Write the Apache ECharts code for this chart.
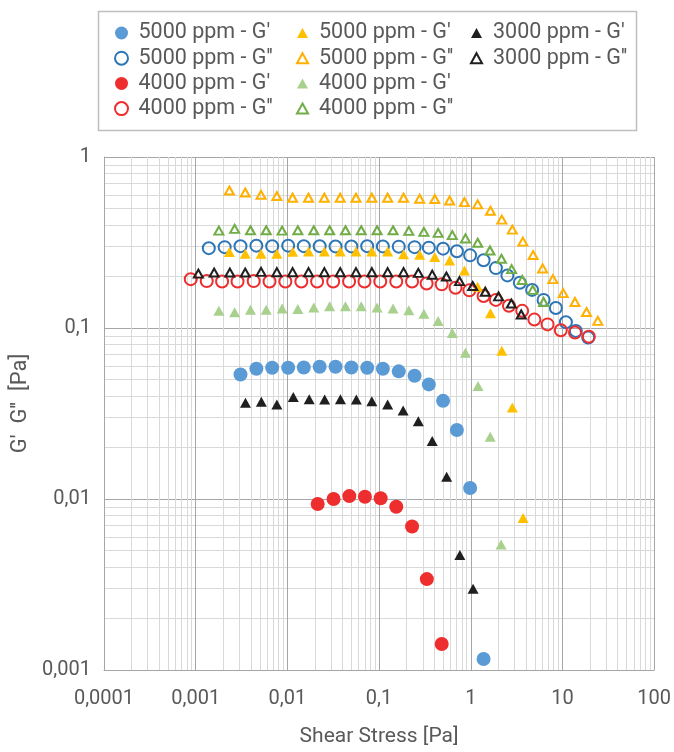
<!DOCTYPE html>
<html>
<head>
<meta charset="utf-8">
<script src="https://cdn.jsdelivr.net/npm/echarts@6/dist/echarts.min.js"></script>
<style>
  html, body { margin: 0; padding: 0; background: #fff; }
  #chart { width: 674px; height: 752px; }
</style>
</head>
<body>
<div id="chart"></div>
<script>
// tick labels (decimal comma)
const xTickLabels = ["0,0001", "0,001", "0,01", "0,1", "1", "10", "100"];
const yTickLabels = ["0,001", "0,01", "0,1", "1"];

// 5000 ppm - G' (blue dots)
const b5gX = [0.00308, 0.00459, 0.00683, 0.0102, 0.0151, 0.0225, 0.0335, 0.0499, 0.0742, 0.110, 0.164, 0.244, 0.349, 0.499, 0.706, 0.984, 1.38];
const b5gY = [0.0535, 0.0578, 0.0585, 0.0585, 0.0588, 0.0593, 0.0593, 0.0588, 0.0585, 0.0578, 0.0558, 0.0526, 0.0468, 0.0375, 0.0253, 0.0116, 0.00116];
// 5000 ppm - G'' (blue rings)
const b5ggX = [0.00139, 0.00207, 0.00308, 0.00459, 0.00683, 0.0102, 0.0151, 0.0225, 0.0335, 0.0499, 0.0742, 0.110, 0.164, 0.244, 0.349, 0.499, 0.706, 0.984, 1.38, 1.88, 2.51, 3.43, 4.67, 6.23, 8.47, 10.9, 14.0, 19.1];
const b5ggY = [0.293, 0.297, 0.301, 0.303, 0.301, 0.303, 0.301, 0.301, 0.300, 0.300, 0.301, 0.300, 0.299, 0.297, 0.295, 0.291, 0.281, 0.266, 0.249, 0.224, 0.203, 0.184, 0.167, 0.146, 0.131, 0.108, 0.096, 0.088];
// 4000 ppm - G' (red dots)
const r4gX = [0.0214, 0.0319, 0.0474, 0.0701, 0.104, 0.154, 0.229, 0.332, 0.482];
const r4gY = [0.00935, 0.0100, 0.0104, 0.0103, 0.0101, 0.0090, 0.0069, 0.0034, 0.00142];
// 4000 ppm - G'' (red rings)
const r4ggX = [0.000884, 0.00132, 0.00194, 0.00286, 0.00429, 0.00639, 0.00951, 0.0142, 0.0211, 0.0316, 0.0471, 0.0693, 0.103, 0.154, 0.229, 0.330, 0.482, 0.682, 0.966, 1.38, 1.88, 2.61, 3.64, 4.94, 6.88, 9.60, 13.7, 19.4];
const r4ggY = [0.193, 0.188, 0.187, 0.187, 0.188, 0.187, 0.187, 0.187, 0.187, 0.187, 0.187, 0.187, 0.187, 0.187, 0.187, 0.182, 0.180, 0.172, 0.166, 0.154, 0.146, 0.135, 0.126, 0.112, 0.105, 0.097, 0.094, 0.089];
// 5000 ppm - G' (yellow triangles)
const y5gX = [0.00233, 0.00347, 0.00516, 0.00768, 0.0114, 0.0170, 0.0253, 0.0377, 0.0560, 0.0834, 0.124, 0.185, 0.277, 0.405, 0.588, 0.853, 1.19, 1.64, 2.18, 2.84, 3.72];
const y5gY = [0.278, 0.272, 0.272, 0.272, 0.279, 0.280, 0.280, 0.280, 0.280, 0.280, 0.280, 0.270, 0.268, 0.260, 0.248, 0.217, 0.174, 0.122, 0.0735, 0.0343, 0.00775];
// 5000 ppm - G'' (yellow open triangles)
const y5ggX = [0.00233, 0.00347, 0.00516, 0.00768, 0.0114, 0.0170, 0.0253, 0.0377, 0.0560, 0.0834, 0.124, 0.185, 0.277, 0.405, 0.588, 0.853, 1.19, 1.64, 2.18, 2.84, 3.70, 4.79, 6.08, 7.87, 10.2, 13.7, 18.3, 24.3];
const y5ggY = [0.637, 0.620, 0.601, 0.591, 0.578, 0.578, 0.578, 0.578, 0.578, 0.578, 0.578, 0.578, 0.570, 0.568, 0.557, 0.545, 0.528, 0.485, 0.430, 0.376, 0.320, 0.267, 0.223, 0.193, 0.160, 0.142, 0.124, 0.110];
// 4000 ppm - G' (green triangles)
const g4gX = [0.00179, 0.00266, 0.00396, 0.00588, 0.00876, 0.0130, 0.0194, 0.0289, 0.0430, 0.0639, 0.0951, 0.142, 0.211, 0.308, 0.441, 0.629, 0.875, 1.20, 1.63, 2.14];
const g4gY = [0.126, 0.1235, 0.128, 0.128, 0.130, 0.129, 0.132, 0.134, 0.134, 0.134, 0.132, 0.130, 0.127, 0.121, 0.110, 0.0935, 0.0716, 0.0458, 0.0231, 0.00542];
// 4000 ppm - G'' (green open triangles)
const g4ggX = [0.00179, 0.00266, 0.00396, 0.00588, 0.00876, 0.0130, 0.0194, 0.0289, 0.0430, 0.0639, 0.0951, 0.142, 0.211, 0.308, 0.441, 0.629, 0.875, 1.19, 1.62, 2.16, 2.79, 3.64, 4.74, 6.23];
const g4ggY = [0.371, 0.380, 0.373, 0.373, 0.371, 0.373, 0.373, 0.373, 0.373, 0.373, 0.373, 0.373, 0.370, 0.365, 0.360, 0.349, 0.334, 0.315, 0.284, 0.254, 0.221, 0.191, 0.167, 0.142];
// 3000 ppm - G' (black triangles)
const k3gX = [0.00349, 0.0052, 0.00768, 0.0116, 0.0173, 0.0255, 0.0379, 0.0565, 0.0834, 0.124, 0.183, 0.268, 0.380, 0.546, 0.760, 1.06];
const k3gY = [0.0366, 0.0370, 0.0357, 0.0395, 0.0383, 0.0382, 0.0383, 0.0382, 0.0373, 0.0357, 0.0329, 0.0285, 0.0218, 0.0135, 0.00471, 0.00299];
// 3000 ppm - G'' (black open triangles)
const k3ggX = [0.00107, 0.00159, 0.00236, 0.00347, 0.00516, 0.00768, 0.0114, 0.0170, 0.0253, 0.0377, 0.0560, 0.0834, 0.124, 0.185, 0.268, 0.380, 0.542, 0.754, 1.05, 1.44, 2.01, 2.77, 3.55];
const k3ggY = [0.208, 0.211, 0.211, 0.211, 0.213, 0.212, 0.212, 0.212, 0.212, 0.212, 0.212, 0.212, 0.212, 0.212, 0.210, 0.205, 0.200, 0.188, 0.176, 0.163, 0.153, 0.139, 0.120];

const FONT = "Roboto";
const TXT = "#595959";

function zip(xs, ys) {
  return xs.map((x, i) => [x, ys[i]]);
}

// names must be unique for the legend, "|t" marks the triangle ones
function dots(name, xs, ys, color) {
  return { name: name, type: "scatter", symbol: "circle", symbolSize: 14,
    itemStyle: { color: color, opacity: 1 }, data: zip(xs, ys) };
}
function rings(name, xs, ys, color) {
  return { name: name, type: "scatter", symbol: "circle", symbolSize: 12,
    itemStyle: { color: "rgba(255,255,255,0)", borderColor: color, borderWidth: 2, opacity: 1 }, data: zip(xs, ys) };
}
function tris(name, xs, ys, color) {
  return { name: name, type: "scatter", symbol: "triangle", symbolSize: [11, 10],
    itemStyle: { color: color, opacity: 1 }, data: zip(xs, ys) };
}
function openTris(name, xs, ys, color) {
  return { name: name, type: "scatter", symbol: "triangle", symbolSize: [9, 8],
    itemStyle: { color: "rgba(255,255,255,0)", borderColor: color, borderWidth: 2, opacity: 1 }, data: zip(xs, ys) };
}

const legendBase = {
  orient: "vertical",
  top: 22,
  padding: 0,
  itemGap: 3.2,
  selectedMode: false,
  formatter: (n) => n.split("|")[0],
  textStyle: { color: TXT, fontSize: 21.5, lineHeight: 21.5, fontFamily: FONT }
};

const option = {
  backgroundColor: "#fff",
  animation: false,
  graphic: [{
    type: "rect", left: 96, top: 9,
    shape: { width: 538, height: 119 },
    style: { fill: "none", stroke: "#bfbfbf", lineWidth: 1.5 }
  }],
  legend: [
    Object.assign({}, legendBase, {
      left: 114, itemWidth: 24, itemHeight: 13,
      data: ["5000 ppm - G'", "5000 ppm - G''", "4000 ppm - G'", "4000 ppm - G''"]
    }),
    Object.assign({}, legendBase, {
      left: 296, itemWidth: 11, itemHeight: 10,
      textStyle: Object.assign({}, legendBase.textStyle, { padding: [0, 0, 0, 6] }),
      data: ["5000 ppm - G'|t", "5000 ppm - G''|t", "4000 ppm - G'|t", "4000 ppm - G''|t"]
    }),
    Object.assign({}, legendBase, {
      left: 470, itemWidth: 11, itemHeight: 10,
      textStyle: Object.assign({}, legendBase.textStyle, { padding: [0, 0, 0, 6] }),
      data: ["3000 ppm - G'|t", "3000 ppm - G''|t"]
    })
  ],
  grid: { left: 104, right: 14, top: 157, bottom: 79 },
  xAxis: {
    type: "log", logBase: 10, min: 0.0001, max: 100, splitNumber: 6,
    name: "Shear Stress [Pa]", nameLocation: "middle", nameGap: 56,
    nameTextStyle: { color: TXT, fontSize: 21, fontFamily: FONT },
    axisLine: { show: true, lineStyle: { color: "#a6a6a6", width: 1 } },
    axisTick: { show: false },
    axisLabel: { color: TXT, fontSize: 20, fontFamily: FONT, margin: 19,
      formatter: (v) => xTickLabels[Math.round(Math.log10(v)) + 4] },
    splitLine: { show: true, lineStyle: { color: "#a6a6a6", width: 1 } },
    minorTick: { show: false, splitNumber: 9 },
    minorSplitLine: { show: true, lineStyle: { color: "#d9d9d9", width: 1 } }
  },
  yAxis: {
    type: "log", logBase: 10, min: 0.001, max: 1, splitNumber: 3,
    name: "G'  G''  [Pa]", nameLocation: "middle", nameGap: 66,
    nameTextStyle: { color: TXT, fontSize: 22, fontFamily: FONT, padding: [0, 0, 0, 20] },
    axisLine: { show: true, lineStyle: { color: "#a6a6a6", width: 1 } },
    axisTick: { show: false },
    axisLabel: { color: TXT, fontSize: 20, fontFamily: FONT, margin: 13,
      formatter: (v) => yTickLabels[Math.round(Math.log10(v)) + 3] },
    splitLine: { show: true, lineStyle: { color: "#a6a6a6", width: 1 } },
    minorTick: { show: false, splitNumber: 9 },
    minorSplitLine: { show: true, lineStyle: { color: "#d9d9d9", width: 1 } }
  },
  series: [
    dots("5000 ppm - G'", b5gX, b5gY, "#5b9bd5"),
    rings("5000 ppm - G''", b5ggX, b5ggY, "#2e75b6"),
    dots("4000 ppm - G'", r4gX, r4gY, "#ee2e2e"),
    rings("4000 ppm - G''", r4ggX, r4ggY, "#ee2e2e"),
    tris("5000 ppm - G'|t", y5gX, y5gY, "#ffc000"),
    openTris("5000 ppm - G''|t", y5ggX, y5ggY, "#ffb000"),
    tris("4000 ppm - G'|t", g4gX, g4gY, "#a9d18e"),
    openTris("4000 ppm - G''|t", g4ggX, g4ggY, "#70ad47"),
    tris("3000 ppm - G'|t", k3gX, k3gY, "#1f1f1f"),
    openTris("3000 ppm - G''|t", k3ggX, k3ggY, "#1f1f1f")
  ]
};

const myChart = echarts.init(document.getElementById("chart"), null, { renderer: "canvas" });
myChart.setOption(option);
</script>
</body>
</html>
